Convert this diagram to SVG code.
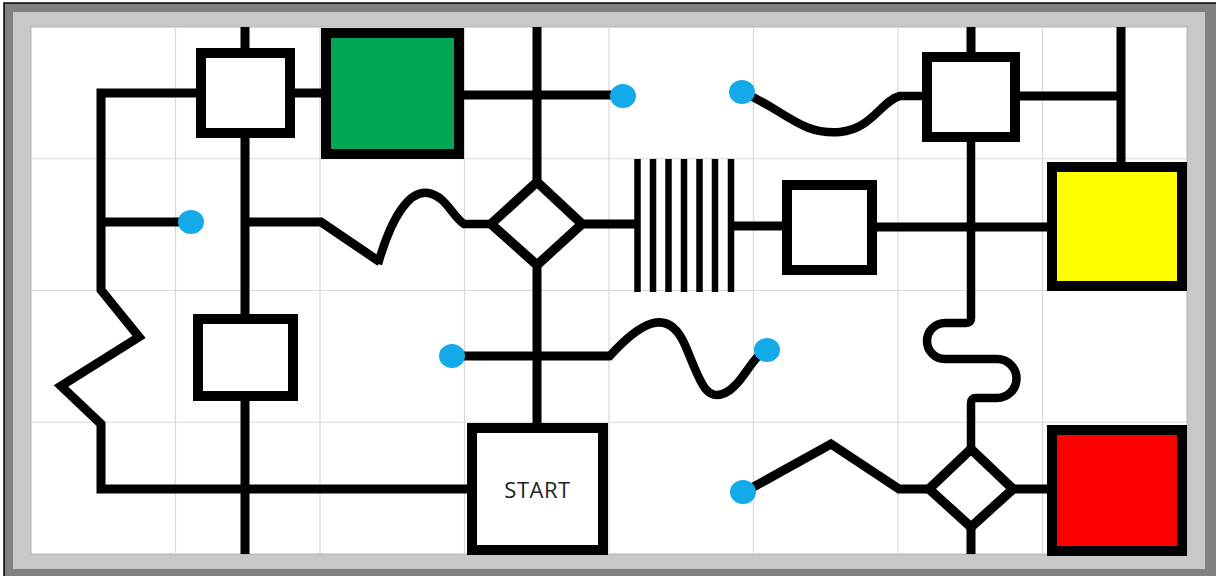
<svg xmlns="http://www.w3.org/2000/svg" width="1216" height="576" viewBox="0 0 1216 576">
<defs>
<style>
.grid line{stroke:#d9d9d9;stroke-width:1.2}
.box{fill:#fff;stroke:#000;stroke-width:10}
.dia{fill:#fff;stroke:#000;stroke-width:9.5;stroke-linejoin:miter}
.wire{fill:none;stroke:#000;stroke-width:9;stroke-linejoin:miter}
.curve{fill:none;stroke:#000;stroke-width:8.5;stroke-linecap:butt}
.comb line{stroke:#000;stroke-width:6.5}
.dot{fill:#14a9e8}
.lbl{font-family:"Open Sans","Liberation Sans",sans-serif;font-size:22px;letter-spacing:0.5px;fill:#222}
</style>
</defs>
<rect x="4" y="3" width="1216" height="580" fill="#808080" stroke="#000" stroke-width="1.5"/>
<rect x="13" y="12" width="1192" height="557" fill="#c8c8c8"/>
<rect x="31" y="27" width="1156" height="527" fill="#fff" stroke="#b0b0b0" stroke-width="1"/>
<g class="grid">
<line x1="175.5" y1="27" x2="175.5" y2="554"/>
<line x1="320" y1="27" x2="320" y2="554"/>
<line x1="464.5" y1="27" x2="464.5" y2="554"/>
<line x1="609" y1="27" x2="609" y2="554"/>
<line x1="753.5" y1="27" x2="753.5" y2="554"/>
<line x1="898" y1="27" x2="898" y2="554"/>
<line x1="1042.5" y1="27" x2="1042.5" y2="554"/>
<line x1="31" y1="158.75" x2="1187" y2="158.75"/>
<line x1="31" y1="290.5" x2="1187" y2="290.5"/>
<line x1="31" y1="422.25" x2="1187" y2="422.25"/>
</g>
<g id="connectors">
<path class="wire" d="M245 27 V53"/>
<path class="wire" d="M245 133 V319"/>
<path class="wire" d="M245 396 V554"/>
<path class="wire" d="M201 93 H101 V290 L139 337 L61 386 L101 424 V489 H472"/>
<path class="wire" d="M101 222 H185"/>
<path class="wire" d="M290 93 H326"/>
<path class="wire" d="M245 222 H321 L380 262"/>
<path class="curve" d="M378 264 C392 215 410 190 428 193 C446 196 452 216 464 224 L492 224"/>
<path class="wire" d="M459 95 H618"/>
<path class="wire" d="M537 27 V182"/>
<path class="wire" d="M582 224 H637"/>
<path class="wire" d="M731 226 H787"/>
<path class="wire" d="M872 227 H1052"/>
<path class="curve" d="M742 92 C785 110 800 135 840 132 C872 129 882 100 900 96 L927 96"/>
<path class="wire" d="M1015 96 H1121"/>
<path class="wire" d="M1121 27 V167"/>
<path class="wire" d="M971 27 V57"/>
<path class="curve" d="M971 137 V318 Q971 323 966 323 L945 323 A18 18 0 0 0 945 359 L997 359 A19.5 19.5 0 0 1 997 398 L976 398 Q971 398 971 403 V449"/>
<path class="wire" d="M971 527 V554"/>
<path class="wire" d="M929 489 H899 L831 444 L748 490"/>
<path class="wire" d="M1013 489 H1052"/>
<path class="wire" d="M537 265 V428"/>
<path class="wire" d="M457 356 H610"/>
<path class="curve" d="M608 358 C640 322 668 306 685 345 C700 380 705 402 725 393 C740 386 748 365 762 352"/>
<g class="comb">
<line x1="637.5" y1="159" x2="637.5" y2="292"/>
<line x1="653" y1="159" x2="653" y2="292"/>
<line x1="668.5" y1="159" x2="668.5" y2="292"/>
<line x1="684" y1="159" x2="684" y2="292"/>
<line x1="699.5" y1="159" x2="699.5" y2="292"/>
<line x1="715" y1="159" x2="715" y2="292"/>
<line x1="731" y1="159" x2="731" y2="292"/>
</g>
</g>
<g id="box-top-left"><rect class="box" x="201" y="53" width="89" height="80"/></g>
<g id="goal-green"><rect class="box" x="326" y="33" width="133" height="121" style="fill:#00a651"/></g>
<g id="box-top-right"><rect class="box" x="927" y="57" width="88" height="80"/></g>
<g id="goal-yellow"><rect class="box" x="1052" y="167" width="130" height="119" style="fill:#ffff00"/></g>
<g id="box-middle"><rect class="box" x="787" y="185" width="85" height="85"/></g>
<g id="box-left-middle"><rect class="box" x="198" y="319" width="95" height="77"/></g>
<g id="start"><rect class="box" x="472" y="428" width="131" height="122"/><text class="lbl" x="537.5" y="498" text-anchor="middle">START</text></g>
<g id="goal-red"><rect class="box" x="1052" y="430" width="130" height="121" style="fill:#ff0000"/></g>
<g id="diamond-1"><polygon class="dia" points="491,224 537,182 582,224 537,265"/></g>
<g id="diamond-2"><polygon class="dia" points="929,489 971,449 1013,489 971,527"/></g>
<g id="dots">
<ellipse class="dot" cx="191" cy="222" rx="13" ry="12"/>
<ellipse class="dot" cx="623" cy="96" rx="13" ry="12"/>
<ellipse class="dot" cx="742" cy="92" rx="13" ry="12"/>
<ellipse class="dot" cx="452" cy="356" rx="13" ry="12"/>
<ellipse class="dot" cx="767" cy="350" rx="13" ry="12"/>
<ellipse class="dot" cx="743" cy="492" rx="13" ry="12"/>
</g>
</svg>
